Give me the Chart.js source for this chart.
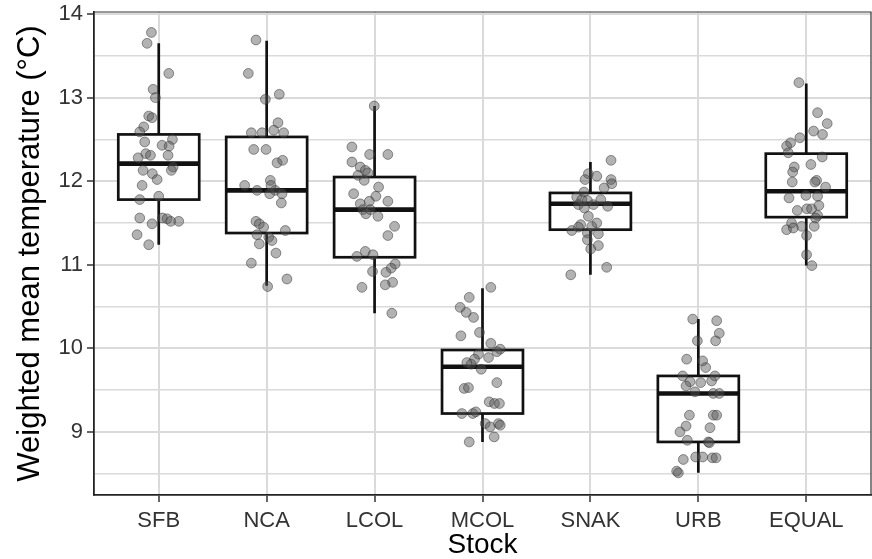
<!DOCTYPE html>
<html>
<head>
<meta charset="utf-8">
<script src="https://cdn.jsdelivr.net/npm/chart.js@4.4.1/dist/chart.umd.min.js"></script>
<style>
  html, body { margin: 0; padding: 0; background: #fff; overflow: hidden; }
  #wrap { width: 872px; height: 559px; }
  #boxChart { display: block; }
</style>
</head>
<body>
<div id="wrap"><canvas id="boxChart" width="872" height="559"></canvas></div>
<script>
const stocks = ['SFB', 'NCA', 'LCOL', 'MCOL', 'SNAK', 'URB', 'EQUAL'];

// box summaries
const whiskerLow  = [11.24, 10.75, 10.42, 8.88, 10.88, 8.51, 10.99];
const lowerQuart  = [11.78, 11.38, 11.09, 9.22, 11.42, 8.88, 11.57];
const medians     = [12.21, 11.89, 11.66, 9.78, 11.73, 9.46, 11.88];
const upperQuart  = [12.56, 12.53, 12.05, 9.98, 11.86, 9.67, 12.33];
const whiskerHigh = [13.65, 13.68, 12.90, 10.72, 12.23, 10.35, 13.17];

// individual values and their horizontal jitter (category units)
const sfbTemp = [13.78, 13.65, 13.29, 13.10, 13.00, 12.78, 12.76, 12.65, 12.59, 12.47, 12.50, 12.43, 12.42, 12.33, 12.31, 12.28, 12.31, 12.17, 12.13, 12.13, 12.09, 12.02, 11.95, 11.78, 11.82, 11.56, 11.56, 11.55, 11.52, 11.52, 11.49, 11.36, 11.24];
const sfbJitter = [-0.068, -0.108, 0.093, -0.052, -0.031, -0.093, -0.062, -0.139, -0.176, -0.130, 0.127, 0.031, 0.096, -0.120, -0.077, -0.191, 0.086, 0.133, 0.117, -0.145, -0.059, -0.015, -0.154, -0.176, 0, -0.176, 0.034, 0.077, 0.111, 0.185, -0.062, -0.201, -0.093];

const ncaTemp = [13.69, 13.29, 12.98, 13.04, 12.70, 12.58, 12.58, 12.61, 12.58, 12.38, 12.38, 12.22, 12.25, 11.95, 12.01, 11.89, 11.85, 11.89, 11.85, 11.74, 11.52, 11.49, 11.45, 11.41, 11.36, 11.33, 11.25, 11.29, 11.14, 11.02, 10.83, 10.74, 11.95];
const ncaJitter = [-0.099, -0.170, -0.012, 0.117, 0.105, -0.142, -0.043, 0.065, 0.157, -0.120, -0.006, 0.096, 0.148, -0.204, 0.034, -0.089, 0.028, 0.080, 0.142, 0.136, -0.099, -0.068, -0.028, 0.173, -0.090, 0.019, -0.068, 0.049, 0.086, -0.142, 0.188, 0.009, 0.040];

const lcolTemp = [12.90, 12.41, 12.32, 12.32, 12.23, 12.17, 12.13, 12.10, 12.07, 12.01, 11.93, 11.85, 11.82, 11.73, 11.76, 11.76, 11.66, 11.61, 11.66, 11.58, 11.46, 11.35, 11.10, 11.16, 11.12, 11.01, 10.96, 10.92, 10.91, 10.73, 10.76, 10.79, 10.42];
const lcolJitter = [-0.003, -0.210, -0.046, 0.123, -0.210, -0.133, -0.086, -0.062, -0.154, -0.096, 0.037, -0.194, 0.012, -0.133, -0.049, 0.123, -0.108, -0.080, -0.040, 0.031, 0.185, 0.123, -0.164, -0.086, -0.015, 0.191, 0.154, -0.019, 0.105, -0.117, 0.099, 0.167, 0.160];

const mcolTemp = [10.73, 10.61, 10.49, 10.43, 10.37, 10.15, 10.19, 10.06, 9.99, 9.96, 9.93, 9.89, 9.87, 9.83, 9.81, 9.75, 9.59, 9.52, 9.53, 9.36, 9.34, 9.34, 9.22, 9.22, 9.24, 9.10, 9.06, 9.10, 9.08, 8.94, 8.88];
const mcolJitter = [0.077, -0.123, -0.207, -0.151, -0.083, -0.200, -0.028, 0.077, 0.164, 0.133, -0.037, 0.056, -0.074, -0.145, -0.105, -0.012, 0.133, -0.170, -0.130, 0.062, 0.111, 0.157, -0.191, -0.090, -0.062, 0.025, 0.071, 0.148, 0.164, 0.108, -0.123];

const snakTemp = [12.25, 12.09, 12.06, 12.02, 12.02, 11.97, 11.92, 11.87, 11.81, 11.78, 11.77, 11.78, 11.72, 11.72, 11.70, 11.68, 11.58, 11.50, 11.48, 11.45, 11.41, 11.38, 11.37, 11.30, 11.23, 11.19, 10.97, 10.88, 11.46];
const snakJitter = [0.191, -0.019, 0.059, -0.049, 0.191, 0.198, 0.127, -0.059, -0.127, -0.080, -0.028, 0.096, -0.111, 0.028, 0.160, -0.056, -0.019, 0.059, -0.090, -0.111, -0.173, -0.028, 0.074, -0.028, 0.074, 0.003, 0.151, -0.182, 0.012];

const urbTemp = [10.35, 10.33, 10.18, 10.09, 10.09, 9.87, 9.85, 9.77, 9.67, 9.67, 9.60, 9.55, 9.59, 9.61, 9.48, 9.46, 9.46, 9.20, 9.20, 9.20, 9.07, 9.00, 9.05, 8.90, 8.88, 8.87, 8.67, 8.70, 8.70, 8.69, 8.69, 8.53, 8.51];
const urbJitter = [-0.052, 0.170, 0.194, -0.009, 0.160, -0.108, 0.040, 0.068, -0.145, 0.154, -0.077, -0.114, 0.022, 0.123, -0.031, 0.139, 0.194, -0.083, 0.139, 0.170, -0.114, -0.170, 0.108, -0.102, 0.093, 0.102, -0.139, -0.025, 0.040, 0.130, 0.164, -0.201, -0.185];

const equalTemp = [13.18, 12.82, 12.69, 12.60, 12.56, 12.52, 12.46, 12.42, 12.34, 12.29, 12.17, 12.20, 12.11, 12.01, 11.99, 11.99, 11.93, 11.80, 11.83, 11.82, 11.71, 11.65, 11.67, 11.67, 11.59, 11.56, 11.50, 11.46, 11.42, 11.44, 11.46, 11.35, 11.12, 10.99];
const equalJitter = [-0.068, 0.105, 0.194, 0.068, 0.151, -0.059, -0.145, -0.182, -0.167, 0.148, -0.111, 0.043, -0.126, 0.096, 0.080, -0.130, 0.179, -0.160, -0.003, 0.105, 0.117, -0.083, 0.006, 0.049, 0.105, 0.086, -0.136, -0.043, -0.182, -0.120, 0.074, 0.003, 0.003, 0.052];

const yTicks = [8.5, 9, 9.5, 10, 10.5, 11, 11.5, 12, 12.5, 13, 13.5, 14];

const groups = [
  [sfbTemp, sfbJitter], [ncaTemp, ncaJitter], [lcolTemp, lcolJitter],
  [mcolTemp, mcolJitter], [snakTemp, snakJitter], [urbTemp, urbJitter],
  [equalTemp, equalJitter]
];

var jitterPoints = [];
groups.forEach(function (g, i) {
  g[0].forEach(function (t, k) {
    jitterPoints.push({ x: i + 1 + g[1][k], y: t });
  });
});

const FONT = '"Liberation Sans", Arial, sans-serif';
const GRID = '#dadada';

// boxes + whiskers, drawn under the points
const boxPlugin = {
  id: 'boxes',
  beforeDatasetsDraw(chart) {
    const ctx = chart.ctx;
    const xs = chart.scales.x, ys = chart.scales.y;
    ctx.save();
    ctx.strokeStyle = '#111';
    stocks.forEach(function (s, i) {
      const cx = xs.getPixelForValue(i + 1);
      const half = xs.getPixelForValue(i + 1.375) - cx;
      const yHi = ys.getPixelForValue(whiskerHigh[i]);
      const yQ3 = ys.getPixelForValue(upperQuart[i]);
      const yMed = ys.getPixelForValue(medians[i]);
      const yQ1 = ys.getPixelForValue(lowerQuart[i]);
      const yLo = ys.getPixelForValue(whiskerLow[i]);

      ctx.lineWidth = 2.7;
      ctx.beginPath();
      ctx.moveTo(cx, yHi); ctx.lineTo(cx, yQ3);
      ctx.moveTo(cx, yQ1); ctx.lineTo(cx, yLo);
      ctx.stroke();

      ctx.fillStyle = '#fff';
      ctx.fillRect(cx - half, yQ3, 2 * half, yQ1 - yQ3);
      ctx.strokeRect(cx - half, yQ3, 2 * half, yQ1 - yQ3);

      ctx.lineWidth = 4.6;
      ctx.beginPath();
      ctx.moveTo(cx - half, yMed); ctx.lineTo(cx + half, yMed);
      ctx.stroke();
    });
    ctx.restore();
  },
  afterDraw(chart) {
    const a = chart.chartArea;
    const ctx = chart.ctx;
    ctx.save();
    ctx.strokeStyle = '#333';
    ctx.lineWidth = 1.2;
    ctx.beginPath();
    ctx.moveTo(a.left, a.top); ctx.lineTo(a.right, a.top); ctx.lineTo(a.right, a.bottom);
    ctx.stroke();
    ctx.restore();
  }
};

new Chart(document.getElementById('boxChart').getContext('2d'), {
  type: 'scatter',
  data: {
    datasets: [{
      data: jitterPoints,
      pointRadius: 4.9,
      pointHoverRadius: 4.9,
      backgroundColor: 'rgba(85,85,85,0.45)',
      borderColor: 'rgba(50,50,50,0.5)',
      borderWidth: 1
    }]
  },
  options: {
    responsive: false,
    animation: false,
    events: [],
    layout: { autoPadding: false, padding: { top: 12, right: 1, left: 0, bottom: 0 } },
    plugins: { legend: { display: false }, tooltip: { enabled: false } },
    scales: {
      x: {
        type: 'linear',
        min: 0.4,
        max: 7.6,
        afterBuildTicks: function (s) { s.ticks = stocks.map(function (c, i) { return { value: i + 1 }; }); },
        afterFit: function (s) { s.height = 64; s.paddingLeft = 0; s.paddingRight = 0; },
        grid: { color: GRID, lineWidth: 2, tickColor: '#333', tickWidth: 1.5, tickLength: 7 },
        border: { display: true, color: '#222', width: 1.8 },
        ticks: {
          autoSkip: false, maxRotation: 0, padding: 6,
          color: '#333', font: { family: FONT, size: 22 },
          callback: function (v) { return stocks[Math.round(v) - 1]; }
        },
        title: {
          display: true, text: 'Stock', color: '#000',
          font: { family: FONT, size: 28, lineHeight: 1.0 },
          padding: { top: 0, bottom: 0 }
        }
      },
      y: {
        min: 8.245,
        max: 14.025,
        afterBuildTicks: function (s) { s.ticks = yTicks.map(function (v) { return { value: v }; }); },
        afterFit: function (s) { s.width = 94; s.paddingTop = 0; s.paddingBottom = 0; },
        grid: {
          color: GRID,
          lineWidth: function (c) { return c.tick && Number.isInteger(c.tick.value) ? 2 : 1.6; },
          tickColor: function (c) { return c.tick && Number.isInteger(c.tick.value) ? '#333' : 'rgba(0,0,0,0)'; },
          tickWidth: 1.5,
          tickLength: 7
        },
        border: { display: true, color: '#222', width: 1.8 },
        ticks: {
          autoSkip: false, padding: 4,
          color: '#333', font: { family: FONT, size: 22 },
          callback: function (v) { return Number.isInteger(v) ? v : ''; }
        },
        title: {
          display: true, text: 'Weighted mean temperature (°C)', color: '#000',
          font: { family: FONT, size: 31, lineHeight: 1.2 },
          padding: { top: 12, bottom: 0 }
        }
      }
    }
  },
  plugins: [boxPlugin]
});
</script>
</body>
</html>
